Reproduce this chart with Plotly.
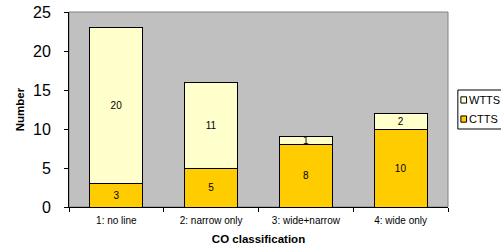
import plotly.graph_objects as go

categories = ["1: no line", "2: narrow only", "3: wide+narrow", "4: wide only"]
ctts = [3, 5, 8, 10]
wtts = [20, 11, 1, 2]
series_names = ["WTTS", "CTTS"]
series_colors = {"CTTS": "#FFCC00", "WTTS": "#FFFFCC"}

font = "Liberation Sans, Arial, sans-serif"

fig = go.Figure()
for name, vals in (("CTTS", ctts), ("WTTS", wtts)):
    fig.add_trace(go.Bar(
        x=categories, y=vals, name=name, showlegend=False,
        marker=dict(color=series_colors[name], line=dict(color="black", width=1)),
        text=vals, textposition="inside", insidetextanchor="middle",
        textangle=0, constraintext="none", cliponaxis=False,
        textfont=dict(size=10, color="black", family=font),
    ))

# Legend drawn in paper space to mimic the Excel legend at the right edge
shapes = [dict(type="rect", xref="paper", yref="paper", x0=0, x1=1, y0=0, y1=1,
               line=dict(color="#808080", width=1), layer="below"),
          dict(type="rect", xref="paper", yref="paper", x0=1.026, x1=1.2, y0=0.4, y1=0.6,
               line=dict(color="black", width=1), fillcolor="white")]
annotations = []
for i, name in enumerate(series_names):
    yc = 0.549 - i * 0.098
    shapes.append(dict(type="rect", xref="paper", yref="paper",
                       x0=1.034, x1=1.049, y0=yc - 0.016, y1=yc + 0.016,
                       line=dict(color="black", width=1), fillcolor=series_colors[name]))
    annotations.append(dict(text=name, xref="paper", yref="paper", x=1.049, y=yc,
                            xanchor="left", yanchor="middle", showarrow=False,
                            font=dict(size=11, family=font, color="black")))

fig.update_layout(
    width=501, height=249,
    barmode="stack", bargap=0.44,
    plot_bgcolor="#C0C0C0", paper_bgcolor="white",
    margin=dict(l=69, r=53, t=12, b=42, autoexpand=False),
    font=dict(family=font, color="black"),
    uniformtext=dict(minsize=6, mode="show"),
    shapes=shapes, annotations=annotations,
)
fig.update_xaxes(
    showline=True, linecolor="black", linewidth=1, automargin=False,
    ticks="outside", tickson="boundaries", ticklen=4, tickcolor="black",
    tickfont=dict(size=10), ticklabelstandoff=4,
    title=dict(text="<b>CO classification</b>", font=dict(size=11.5), standoff=9),
)
fig.update_yaxes(
    range=[0, 25], dtick=5, showgrid=False, zeroline=False, automargin=False,
    showline=True, linecolor="black", linewidth=1,
    ticks="outside", ticklen=4, tickcolor="black",
    tickfont=dict(size=16), ticklabelstandoff=10,
    title=dict(text="<b>Number</b>", font=dict(size=11.5), standoff=5),
)

fig.write_html("out.html", config={"displayModeBar": False},
               post_script="document.body.style.margin='0';document.body.style.overflow='hidden';")
